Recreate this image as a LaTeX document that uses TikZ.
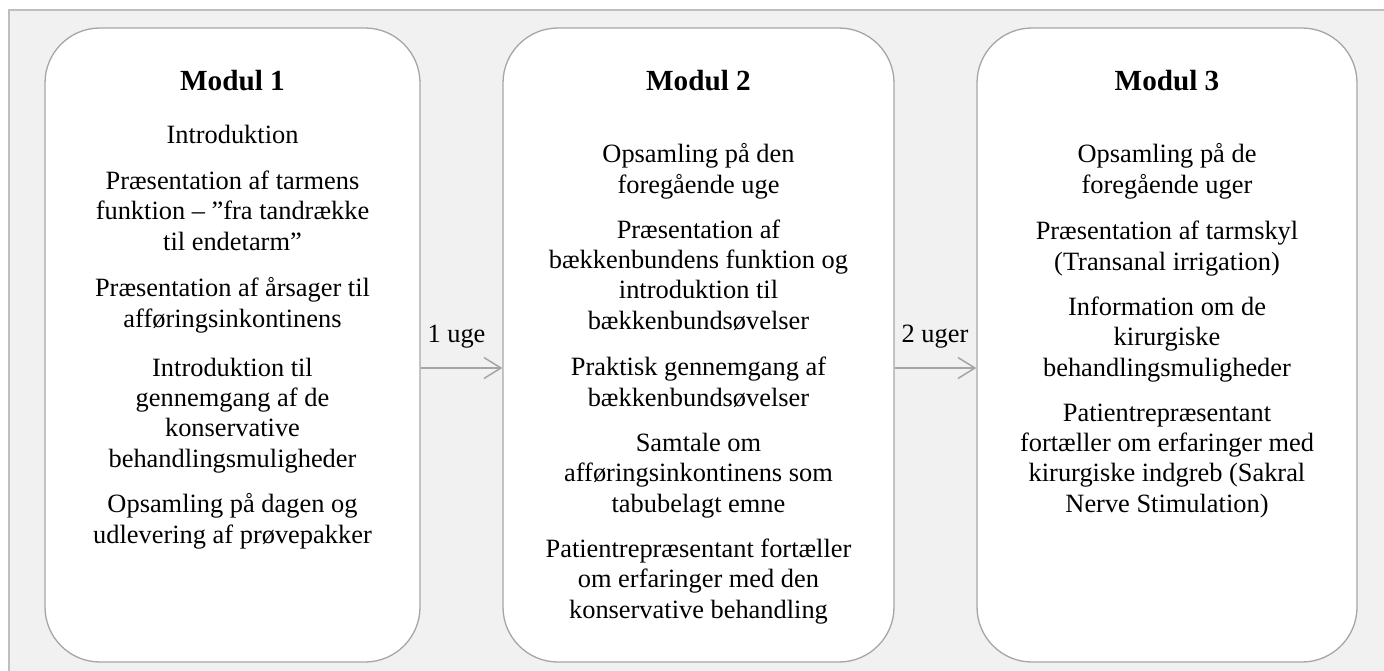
\documentclass[tikz,border=0pt]{standalone}
\usepackage{fontspec}
\setmainfont{Liberation Serif}
\usetikzlibrary{arrows.meta}
\definecolor{framegray}{HTML}{BFBFBF}
\definecolor{panelbg}{HTML}{F1F1F1}
\definecolor{boxline}{HTML}{A6A6A6}
\definecolor{arrowgray}{HTML}{A5A5A5}
\begin{document}
\begin{tikzpicture}[x=1pt,y=-1pt,
  modulebox/.style={draw=boxline, line width=1.3pt, fill=white, rounded corners=55pt,
    rectangle, inner sep=0pt, minimum height=634pt},
  body/.style={align=center, anchor=base, inner sep=0pt,
    font=\fontsize{26.4}{30.2}\selectfont},
  heading/.style={anchor=base, inner sep=0pt, font=\fontsize{29.2}{33}\selectfont\bfseries},
  gap/.style={anchor=base, inner sep=0pt, font=\fontsize{26.4}{30.2}\selectfont},
  flow/.style={draw=arrowgray, line width=1.5pt,
    -{Straight Barb[length=17pt,width=21pt,line width=1.5pt]}}
]
\useasboundingbox (0,0) rectangle (1384,670);
% panel behind the three modules
\path[fill=panelbg, draw=framegray, line width=1.5pt] (9,10) rectangle (1420,700);

% the three module boxes
\node[modulebox, minimum width=375pt] (m1) at (232.5,345) {};
\node[modulebox, minimum width=391pt] (m2) at (698.5,345) {};
\node[modulebox, minimum width=380pt] (m3) at (1167,345) {};

% Modul 1
\node[heading] (h1) at (232.5,90) {Modul 1};
\node[body] (a1) at (232.5,143) {Introduktion};
\node[body] (a2) at (232.5,250) {Præsentation af tarmens\\funktion – ”fra tandrække\\til endetarm”};
\node[body] (a3) at (232.5,327) {Præsentation af årsager til\\afføringsinkontinens};
\node[body] (a4) at (232.5,467) {Introduktion til\\gennemgang af de\\konservative\\behandlingsmuligheder};
\node[body] (a5) at (232.5,543) {Opsamling på dagen og\\udlevering af prøvepakker};

% Modul 2
\node[heading] (h2) at (698.5,90) {Modul 2};
\node[body] (b1) at (698.5,193) {Opsamling på den\\foregående uge};
\node[body] (b2) at (698.5,329) {Præsentation af\\bækkenbundens funktion og\\introduktion til\\bækkenbundsøvelser};
\node[body] (b3) at (698.5,406) {Praktisk gennemgang af\\bækkenbundsøvelser};
\node[body] (b4) at (698.5,512) {Samtale om\\afføringsinkontinens som\\tabubelagt emne};
\node[body] (b5) at (698.5,618) {Patientrepræsentant fortæller\\om erfaringer med den\\konservative behandling};

% Modul 3
\node[heading] (h3) at (1167,90) {Modul 3};
\node[body] (c1) at (1167,193) {Opsamling på de\\foregående uger};
\node[body] (c2) at (1167,270) {Præsentation af tarmskyl\\(Transanal irrigation)};
\node[body] (c3) at (1167,376) {Information om de\\kirurgiske\\behandlingsmuligheder};
\node[body] (c4) at (1167,512) {Patientrepræsentant\\fortæller om erfaringer med\\kirurgiske indgreb (Sakral\\Nerve Stimulation)};

% time between the modules
\draw[flow] ([yshift=-23pt]m1.east) -- ([yshift=-23pt]m2.west);
\draw[flow] ([yshift=-23pt]m2.east) -- ([yshift=-23pt]m3.west);
\node[gap] (g1) at (456.5,342) {1 uge};
\node[gap] (g2) at (935,342) {2 uger};
\end{tikzpicture}
\end{document}
